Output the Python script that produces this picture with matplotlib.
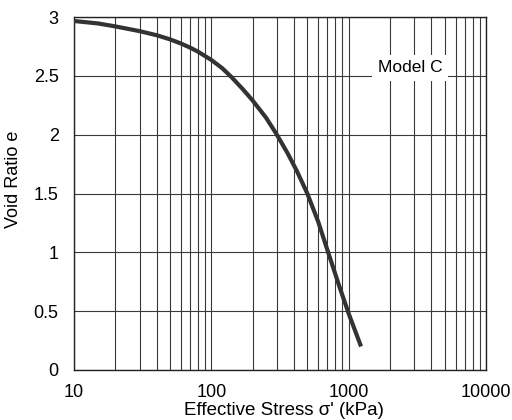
import matplotlib
matplotlib.use('Agg')
import matplotlib.pyplot as plt
from matplotlib.ticker import FixedLocator, NullFormatter

plt.rcParams['font.family'] = ['Liberation Sans', 'DejaVu Sans']

# values
stress = [10, 15, 20, 30, 40, 50, 60, 70, 80, 100, 120, 140, 170, 200, 250, 300, 360, 420, 500, 600, 700, 850, 1000, 1230]
void_ratio = [2.966, 2.945, 2.92, 2.88, 2.845, 2.81, 2.775, 2.74, 2.705, 2.635, 2.565, 2.49, 2.385, 2.29, 2.145, 2.00, 1.84, 1.69, 1.50, 1.26, 1.02, 0.72, 0.48, 0.20]

x_ticks = [10, 100, 1000, 10000]
x_tick_labels = ['10', '100', '1000', '10000']
y_ticks = [0, 0.5, 1, 1.5, 2, 2.5, 3]
y_tick_labels = ['0', '0.5', '1', '1.5', '2', '2.5', '3']
label_text = 'Model C'

fig = plt.figure(figsize=(5.12, 4.2), dpi=100)
ax = fig.add_axes([74 / 512, 50 / 420, 412 / 512, 353 / 420])

ax.set_xscale('log')
ax.set_xlim(10, 10000)
ax.set_ylim(0, 3)

# grid on every minor log step
minor = [m * 10 ** d for d in range(1, 4) for m in range(2, 10)]
ax.xaxis.set_major_locator(FixedLocator(x_ticks))
ax.xaxis.set_minor_locator(FixedLocator(minor))
ax.xaxis.set_minor_formatter(NullFormatter())
ax.set_xticklabels(x_tick_labels)
ax.set_yticks(y_ticks)
ax.set_yticklabels(y_tick_labels)

ax.grid(True, which='both', axis='x', color='#3a3a3a', lw=0.8)
ax.grid(True, which='major', axis='y', color='#3a3a3a', lw=0.8)
ax.set_axisbelow(True)

ax.tick_params(which='both', length=0)
ax.tick_params(axis='x', pad=10, labelsize=13)
ax.tick_params(axis='y', pad=11, labelsize=13)

for s in ax.spines.values():
	s.set_color('#222222')
	s.set_linewidth(1.0)

ax.plot(stress, void_ratio, color='#333333', lw=3.0, solid_capstyle='butt', zorder=3)

ax.text(2800, 2.57, label_text, fontsize=12.5, ha='center', va='center', zorder=4,
	bbox=dict(facecolor='white', edgecolor='none', pad=4))

ax.set_ylabel('Void Ratio e', fontsize=13)
ax.yaxis.set_label_coords(-0.125, 0.54)
ax.set_xlabel("Effective Stress σ' (kPa)", fontsize=13.5, va='bottom')
ax.xaxis.set_label_coords(0.51, -0.138)

fig.savefig('out.png', dpi=100)
